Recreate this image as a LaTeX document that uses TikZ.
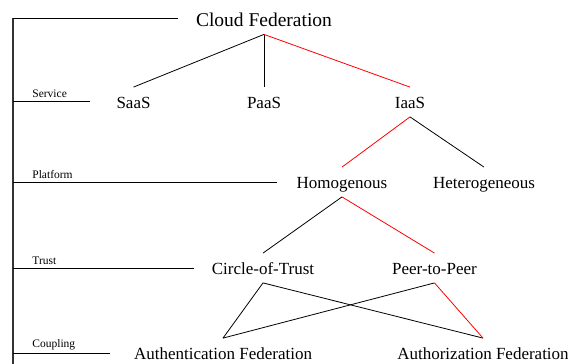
\documentclass[tikz,border=0pt]{standalone}
\usepackage{fontspec}
\setmainfont{Liberation Serif}
\newfontfamily\treefont{Liberation Serif}
\usetikzlibrary{positioning}
\tikzset{>=latex}

\begin{document}
\begin{tikzpicture}[x=1pt,y=-1pt,line width=0.8pt,
    level/.style={anchor=base,font=\treefont\fontsize{17}{17}\selectfont,text height=12pt,text depth=0pt,inner xsep=0pt,inner ysep=8.5pt},
    tag/.style={anchor=base west,font=\treefont\fontsize{11.5}{11.5}\selectfont,inner sep=0pt},
    chosen/.style={red}]
    \useasboundingbox (0,0) rectangle (568,364);

    % levels on the left
    \draw[line width=1.1pt,black!80] (13,18) -- (13,364);
    \draw[] (13,18) -- (178,18);
    \draw[] (13,101) -- (90,101);
    \draw[] (13,182) -- (277,182);
    \draw[] (13,268) -- (194,268);
    \draw[] (13,353) -- (110,353);
    \node[tag] (service) at (32,97) {Service};
    \node[tag] (platform) at (32,178) {Platform};
    \node[tag] (trust) at (32,264) {Trust};
    \node[tag] (coupling) at (32,347) {Coupling};

    % the tree
    \node[level,font=\treefont\fontsize{19.5}{19.5}\selectfont,text height=16pt,inner ysep=8pt] (cloud) at (264,26) {Cloud Federation};
    \node[level] (saas) at (133.5,108) {SaaS};
    \node[level] (paas) at (264,108) {PaaS};
    \node[level] (iaas) at (410,108) {IaaS};
    \node[level] (homo) at (342,188) {Homogenous};
    \node[level] (hetero) at (484,188) {Heterogeneous};
    \node[level] (circle) at (263,274) {Circle-of-Trust};
    \node[level] (peer) at (434.5,274) {Peer-to-Peer};
    \node[level] (authn) at (223,359) {Authentication Federation};
    \node[level] (authz) at (483,359) {Authorization Federation};

    \draw[] (cloud.south) -- (saas.north);
    \draw[] (cloud.south) -- (paas.north);
    \draw[chosen] (cloud.south) -- (iaas.north);
    \draw[chosen] (iaas.south) -- (homo.north);
    \draw[] (iaas.south) -- (hetero.north);
    \draw[] (homo.south) -- (circle.north);
    \draw[chosen] (homo.south) -- (peer.north);
    \draw[] (circle.south) -- (authn.north);
    \draw[] (circle.south) -- (authz.north);
    \draw[] (peer.south) -- (authn.north);
    \draw[chosen] (peer.south) -- (authz.north);
\end{tikzpicture}
\end{document}
